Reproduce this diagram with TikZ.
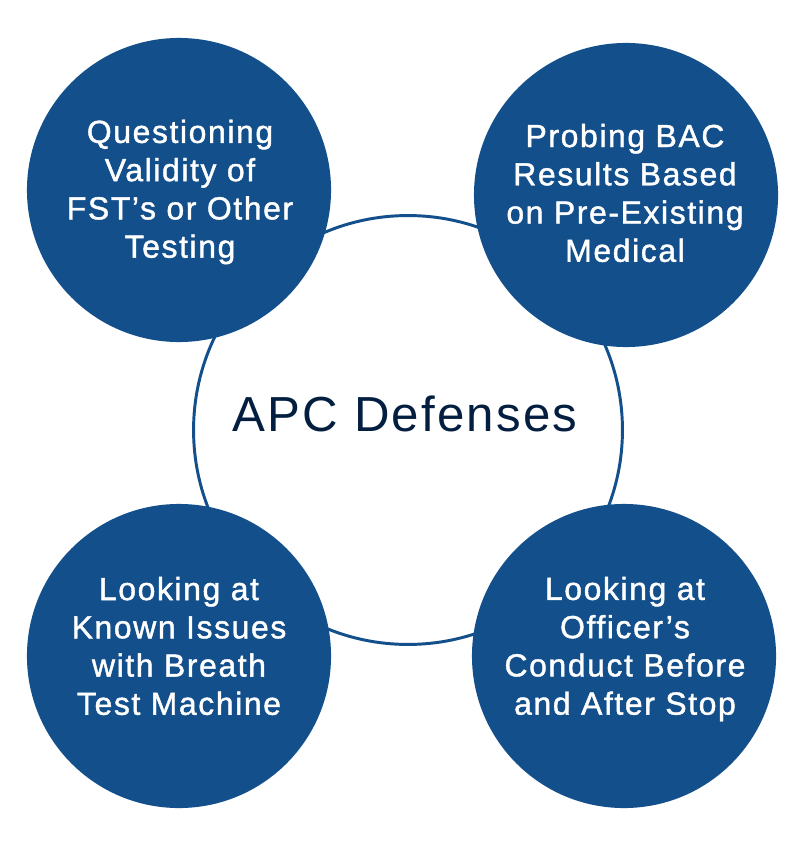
\documentclass[tikz,border=0pt]{standalone}
\usepackage{fontspec}
\setmainfont{Liberation Sans}
\newfontfamily\spacedfont[LetterSpace=4.5]{Liberation Sans}
\newfontfamily\heavyfont[LetterSpace=5,FakeBold=1.3]{Liberation Sans}
\usetikzlibrary{positioning}
\definecolor{defblue}{RGB}{18,79,139}
\definecolor{defnavy}{RGB}{4,30,64}
\tikzset{
  ring/.style={circle, draw=defblue, line width=2.1pt, fill=white,
    minimum size=10.72cm, inner sep=0pt},
  bubble/.style={circle, fill=defblue, minimum size=7.6cm, inner sep=0pt},
  bubbletext/.style={text=white, align=center, inner sep=0pt,
    font=\heavyfont\fontsize{22.7}{27.2}\selectfont},
  heading/.style={text=defnavy, inner sep=0pt,
    font=\spacedfont\fontsize{35}{40}\selectfont}
}

\begin{document}
\begin{tikzpicture}[x=0.025cm, y=-0.025cm]
  \useasboundingbox (0,0) rectangle (808,845);

  \node[ring]    (core)  at (408,430) {};
  \node[heading] (title) at (405,414) {APC Defenses};

  \node[bubble] (tl) at (179,190) {};
  \node[bubble] (tr) at (626,195) {};
  \node[bubble] (bl) at (179,656) {};
  \node[bubble] (br) at (624,656) {};

  \node[bubbletext] (tltext) at (180,192) {Questioning\\Validity of\\FST’s or Other\\Testing};
  \node[bubbletext] (trtext) at (625,193) {Probing BAC\\Results Based\\on Pre-Existing\\Medical};
  \node[bubbletext] (bltext) at (179,646) {Looking at\\Known Issues\\with Breath\\Test Machine};
  \node[bubbletext] (brtext) at (625,649) {Looking at\\Officer’s\\Conduct Before\\and After Stop};
\end{tikzpicture}
\end{document}
